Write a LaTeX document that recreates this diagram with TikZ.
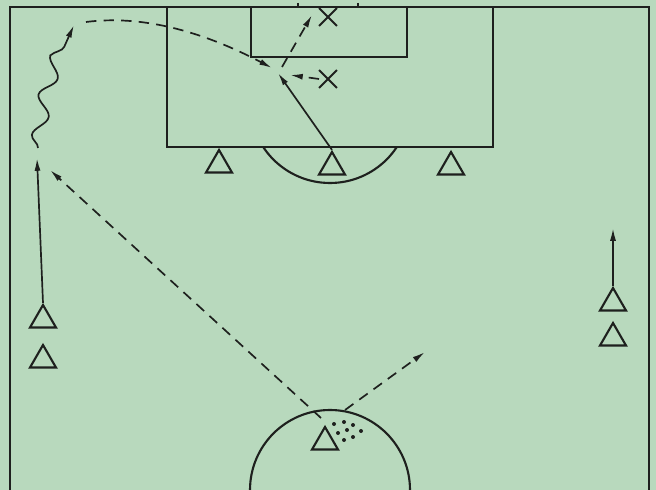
\documentclass[tikz,border=0pt]{standalone}
\usepackage{tikz}
\usetikzlibrary{
  arrows.meta,
  shapes.geometric,
  shapes.misc,
  decorations.pathmorphing,
}
\definecolor{pitch}{RGB}{184,217,189}
\definecolor{ink}{RGB}{30,32,30}

\begin{document}
\begin{tikzpicture}[
  x=0.025cm, y=-0.025cm,
  line/.style={draw=ink, line width=1.5pt},
  player/.style={
    regular polygon, regular polygon sides=3,
    draw=ink, line width=1.5pt,
    minimum size=0.75cm, inner sep=0pt,
  },
  opponent/.style={cross out, draw=ink, line width=1.4pt, minimum size=0.4cm, inner sep=0pt},
  run/.style={draw=ink, line width=1.2pt, -{Latex[length=3.2mm,width=1.5mm]}},
  pass/.style={run, dash pattern=on 2.6mm off 1.8mm},
  dribble/.style={
    run, decorate,
    decoration={snake, amplitude=1.8mm, segment length=1cm, post length=2.5mm},
  },
]
  \clip (0,0) rectangle (656,490);
  \fill[pitch] (0,0) rectangle (656,490);

  % Field markings
  \draw[line] (10,490) -- (10,7) -- (649,7) -- (649,490);
  \draw[line] (167,7) rectangle (493,147);
  \draw[line] (251,7) rectangle (407,57);
  \draw[line] (298,3) -- (298,7);
  \draw[line] (358,3) -- (358,7);
  \begin{scope}
    \clip (0,147) rectangle (656,490);
    \draw[line] (330,103) circle[radius=80];
  \end{scope}
  \draw[line] (330,490) circle[radius=80];

  % Players
  \node[player] (def1) at (219,165) {};
  \node[player] (def2) at (332,167) {};
  \node[player] (def3) at (451,167) {};
  \node[player] (wing1) at (43,320) {};
  \node[player] (wing2) at (43,360) {};
  \node[player] (mid) at (325,442) {};
  \node[player] (right1) at (613,303) {};
  \node[player] (right2) at (613,338) {};

  % Opponents
  \node[opponent] (opp1) at (328,17) {};
  \node[opponent] (opp2) at (328,79) {};

  % Ball
  \fill[ink] (334,424) circle[radius=2] (344,422) circle[radius=2]
    (353,425) circle[radius=2] (338,433) circle[radius=2]
    (347,430) circle[radius=2] (361,431) circle[radius=2]
    (344,440) circle[radius=2] (353,437) circle[radius=2];

  % Free ends
  \coordinate (passL) at (321,418);
  \coordinate (passR) at (345,410);
  \coordinate (wingball) at (50,170);
  \coordinate (outball) at (425,352);
  \coordinate (wingrun) at (37,158);
  \coordinate (dribA) at (38,148);
  \coordinate (dribB) at (74,25);
  \coordinate (crossA) at (86,22);
  \coordinate (crossB) at (272,68);
  \coordinate (meet) at (278,73);
  \coordinate (header) at (282,67);
  \coordinate (goalball) at (312,15);
  \coordinate (block) at (290,75);

  % Moves
  \draw[pass] (passL) -- (wingball);
  \draw[pass] (passR) -- (outball);
  \draw[run] (wing1.north) -- (wingrun);
  \draw[dribble] (dribA) .. controls (42,100) and (58,60) .. (dribB);
  \draw[pass] (crossA) .. controls (140,15) and (200,30) .. (crossB);
  \draw[run] (def2.north) -- (meet);
  \draw[pass] (header) -- (goalball);
  \draw[pass] (opp2.west) -- (block);
  \draw[run] (right1.north) -- (613,228);

\end{tikzpicture}
\end{document}
